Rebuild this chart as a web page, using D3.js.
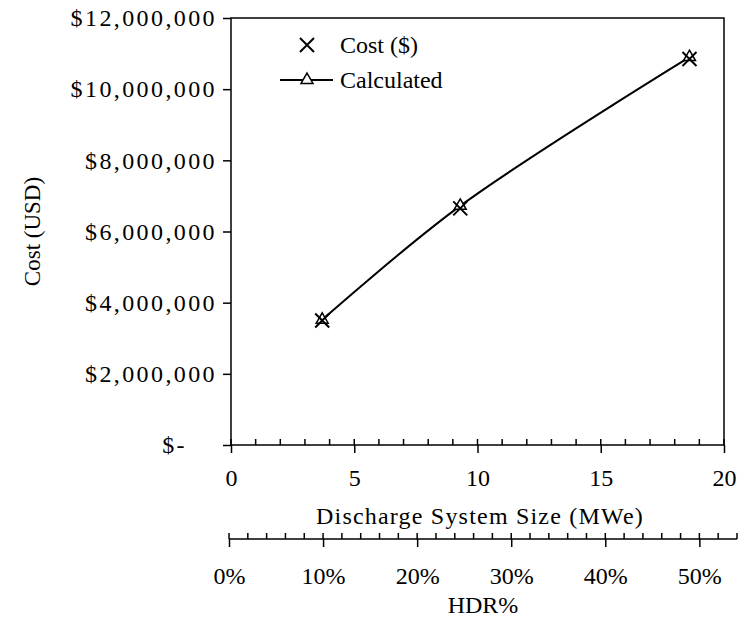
<!DOCTYPE html>
<html>
<head>
<meta charset="utf-8">
<script src="https://cdn.jsdelivr.net/npm/d3@7"></script>
<style>
  body { margin: 0; background: #fff; }
  text { font-family: "Liberation Serif", "Times New Roman", serif; fill: #000; }
</style>
</head>
<body>
<div id="chart"></div>
<script>
// chart data
const sizeMWe = [3.7, 9.3, 18.6];
const costUSD = [3500000, 6650000, 10850000];
const calcUSD = [3520000, 6720000, 10900000];
const yTicks = [0, 2000000, 4000000, 6000000, 8000000, 10000000, 12000000];
const xTicks = [0, 5, 10, 15, 20];
const hdrTicks = [0, 0.1, 0.2, 0.3, 0.4, 0.5];
const seriesNames = ["Cost ($)", "Calculated"];

const width = 746, height = 620;
const margin = {top: 18, right: 22, bottom: 175, left: 231};
const fontSize = 24;

let svg = d3.select("#chart")
    .append("svg")
        .attr("width", width)
        .attr("height", height);

let xScale = d3.scaleLinear()
    .domain([0, 20])
    .range([margin.left, width - margin.right]);

let yScale = d3.scaleLinear()
    .domain([0, 12000000])
    .range([height - margin.bottom, margin.top]);

// secondary HDR% axis sits under the main one
let hdrScale = d3.scaleLinear()
    .domain([0, 0.54])
    .range([229, 737]);

const yBottom = height - margin.bottom;
const hdrY = 539;

// plot frame
svg.append("rect")
    .attr("x", margin.left)
    .attr("y", margin.top)
    .attr("width", xScale(20) - margin.left)
    .attr("height", yBottom - margin.top)
    .attr("fill", "none")
    .attr("stroke", "#000")
    .attr("stroke-width", 1.5);

// y axis
let fmt = (d) => d === 0 ? "$-" : "$" + d3.format(",")(d);
let yAxis = svg.append("g")
    .attr("transform", `translate(${margin.left}, 0)`)
    .call(d3.axisLeft(yScale).tickValues(yTicks).tickFormat(fmt).tickSize(8).tickPadding(6));
yAxis.select(".domain").remove();
yAxis.selectAll("line").attr("stroke-width", 1.5);
yAxis.selectAll("text")
    .attr("font-size", fontSize)
    .attr("font-family", "Liberation Serif")
    .attr("letter-spacing", 2.4)
    .attr("dx", (d) => d === 0 ? -30 : 0);

// x axis: minor ticks inside, major ticks crossing
let xAxis = svg.append("g")
    .attr("transform", `translate(0, ${yBottom})`);
xAxis.selectAll(".minor")
    .data(d3.range(0, 21))
    .enter()
    .append("line")
        .attr("x1", (d) => xScale(d))
        .attr("x2", (d) => xScale(d))
        .attr("y1", -6)
        .attr("y2", 0)
        .attr("stroke", "#000")
        .attr("stroke-width", 1.5);
xAxis.call(d3.axisBottom(xScale).tickValues(xTicks).tickSize(8).tickPadding(16));
xAxis.select(".domain").remove();
xAxis.selectAll(".tick line").attr("stroke-width", 1.5);
xAxis.selectAll("text")
    .attr("font-size", fontSize)
    .attr("font-family", "Liberation Serif");

// HDR% axis
let hAxis = svg.append("g")
    .attr("transform", `translate(0, ${hdrY})`);
hAxis.append("line")
    .attr("x1", hdrScale(0))
    .attr("x2", hdrScale(0.54))
    .attr("stroke", "#000")
    .attr("stroke-width", 1.5);
hAxis.selectAll(".minor")
    .data(d3.range(0, 28).map((i) => i * 0.02))
    .enter()
    .append("line")
        .attr("x1", (d) => hdrScale(d))
        .attr("x2", (d) => hdrScale(d))
        .attr("y1", -6)
        .attr("y2", 0)
        .attr("stroke", "#000")
        .attr("stroke-width", 1.5);
hAxis.call(d3.axisBottom(hdrScale).tickValues(hdrTicks).tickFormat(d3.format(".0%")).tickSize(8).tickPadding(20));
hAxis.select(".domain").remove();
hAxis.selectAll(".tick line").attr("stroke-width", 1.5);
hAxis.selectAll("text")
    .attr("font-size", fontSize)
    .attr("font-family", "Liberation Serif");

// axis titles
svg.append("text")
    .attr("x", 480)
    .attr("y", 524)
    .attr("text-anchor", "middle")
    .attr("font-size", fontSize)
    .attr("letter-spacing", 1.2)
    .text("Discharge System Size  (MWe)");

svg.append("text")
    .attr("x", hdrScale(0.27))
    .attr("y", 613)
    .attr("text-anchor", "middle")
    .attr("font-size", fontSize)
    .text("HDR%");

svg.append("text")
    .attr("transform", `translate(40, ${(margin.top + yBottom) / 2}) rotate(-90)`)
    .attr("text-anchor", "middle")
    .attr("font-size", 23)
    .text("Cost (USD)");

// smoothed calculated line
let pts = sizeMWe.map((d, i) => [xScale(d), yScale(calcUSD[i])]);
svg.append("path")
    .attr("d", d3.line().curve(d3.curveCatmullRom.alpha(0.5))(pts))
    .attr("fill", "none")
    .attr("stroke", "#000")
    .attr("stroke-width", 2);

// x-shaped marker drawn as two strokes
const xMark = {
    draw(ctx, size) {
        let r = Math.sqrt(size) / 2;
        ctx.moveTo(-r, -r); ctx.lineTo(r, r);
        ctx.moveTo(r, -r); ctx.lineTo(-r, r);
    }
};
let triangle = d3.symbol().type(d3.symbolTriangle).size(62);
let cross = d3.symbol().type(xMark).size(196);

svg.selectAll(".calc")
    .data(pts)
    .enter()
    .append("path")
        .attr("transform", (d) => `translate(${d[0]}, ${d[1]})`)
        .attr("d", triangle)
        .attr("fill", "#fff")
        .attr("stroke", "#000")
        .attr("stroke-width", 1.5);

svg.selectAll(".cost")
    .data(sizeMWe)
    .enter()
    .append("path")
        .attr("transform", (d, i) => `translate(${xScale(d)}, ${yScale(costUSD[i])})`)
        .attr("d", cross)
        .attr("fill", "none")
        .attr("stroke", "#000")
        .attr("stroke-width", 2);

// legend
let legend = svg.append("g").attr("transform", "translate(307, 45)");
legend.append("path")
    .attr("d", cross)
    .attr("fill", "none")
    .attr("stroke", "#000")
    .attr("stroke-width", 2);
legend.append("line")
    .attr("x1", -27).attr("x2", 26)
    .attr("y1", 35).attr("y2", 35)
    .attr("stroke", "#000")
    .attr("stroke-width", 2);
legend.append("path")
    .attr("transform", "translate(0, 35)")
    .attr("d", triangle)
    .attr("fill", "#fff")
    .attr("stroke", "#000")
    .attr("stroke-width", 1.5);
legend.selectAll(".lbl")
    .data(seriesNames)
    .enter()
    .append("text")
        .attr("x", 33)
        .attr("y", (d, i) => i * 35)
        .attr("dy", "0.35em")
        .attr("font-size", fontSize)
        .text((d) => d);
</script>
</body>
</html>
